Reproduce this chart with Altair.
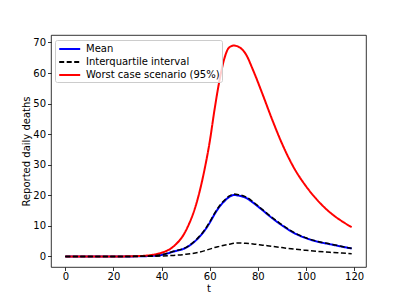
import altair as alt
import pandas as pd

t = [0, 10, 20, 25, 30, 35, 40, 45, 50, 55, 58, 60, 62, 64, 66, 68, 70, 72, 75, 78, 82, 86, 90, 95, 100, 105, 110, 115, 119]
mean = [0, 0, 0, 0.01, 0.04, 0.15, 0.5, 1.6, 2.8, 5.8, 8.6, 11, 13.8, 16.2, 18, 19.4, 20.1, 19.9, 19.2, 17.6, 15.1, 12.5, 10.2, 7.7, 6.0, 4.8, 4.0, 3.2, 2.6]
upper = [0, 0, 0, 0.01, 0.05, 0.17, 0.55, 1.7, 2.9, 6.0, 8.8, 11.3, 14.1, 16.5, 18.3, 19.7, 20.4, 20.2, 19.5, 17.9, 15.3, 12.7, 10.4, 7.85, 6.1, 4.9, 4.1, 3.25, 2.65]
lower = [0, 0, 0, 0, 0.02, 0.07, 0.15, 0.35, 0.7, 1.3, 1.9, 2.4, 2.9, 3.3, 3.7, 4.0, 4.3, 4.4, 4.3, 4.1, 3.7, 3.3, 2.9, 2.4, 2.0, 1.65, 1.35, 1.1, 0.9]
worst = [0, 0, 0, 0.03, 0.1, 0.4, 1.2, 3.3, 8.3, 18.8, 29, 37.5, 48, 57.3, 64.5, 68.3, 69, 68.6, 66.2, 61, 53, 44.7, 37, 29, 23, 18.2, 14.4, 11.5, 9.6]

labels = ["Mean", "Interquartile interval", "Worst case scenario (95%)"]
colors = ["blue", "black", "red"]
dashes = [[1, 0], [5, 2.5], [1, 0]]

rows = []
for name, leg, vals in [("mean", labels[0], mean), ("upper", labels[1], upper),
                        ("lower", labels[1], lower), ("worst", labels[2], worst)]:
    for ti, v in zip(t, vals):
        rows.append({"t": ti, "y": v, "series": name, "legend": leg})
df = pd.DataFrame(rows)

x = alt.X("t:Q", title="t",
          scale=alt.Scale(domain=[-5.95, 124.95], nice=False, zero=False),
          axis=alt.Axis(values=[0, 20, 40, 60, 80, 100, 120], labelPadding=1,
                        titleBaseline="alphabetic", titleY=24))
y = alt.Y("y:Q", title="Reported daily deaths",
          scale=alt.Scale(domain=[-3.45, 72.45], nice=False, zero=False),
          axis=alt.Axis(values=[0, 10, 20, 30, 40, 50, 60, 70]))
color = alt.Color("legend:N", scale=alt.Scale(domain=labels, range=colors),
                  legend=alt.Legend(title=None, orient="none", legendX=4, legendY=5,
                                    symbolType="M-0.8,0H2.7", symbolSize=144,
                                    symbolStrokeWidth=2, labelFontSize=10,
                                    labelFont="DejaVu Sans", labelColor="black",
                                    labelOffset=15, rowPadding=1,
                                    padding=2, fillColor="rgba(255,255,255,0.8)",
                                    strokeColor="#cccccc", cornerRadius=2))
dash = alt.StrokeDash("legend:N", scale=alt.Scale(domain=labels, range=dashes), legend=None)

base = alt.Chart(df).encode(x=x, y=y, color=color, strokeDash=dash, detail="series:N")

solid = base.transform_filter(
    alt.FieldOneOfPredicate(field="series", oneOf=["worst", "mean"])
).mark_line(strokeWidth=2, interpolate="monotone")
dashed = base.transform_filter(
    alt.FieldOneOfPredicate(field="series", oneOf=["upper", "lower"])
).mark_line(strokeWidth=1.5, interpolate="monotone")

chart = alt.layer(solid, dashed).properties(
    width=315, height=232,
    autosize=alt.AutoSizeParams(type="none"),
    padding={"left": 43, "top": 27, "right": 33, "bottom": 25},
).configure_view(stroke="black", strokeWidth=0.8).configure_axis(
    grid=False, domain=False, tickColor="black", tickSize=3.5, tickWidth=0.8,
    labelFont="DejaVu Sans", labelFontSize=10, labelColor="black",
    titleFont="DejaVu Sans", titleFontSize=10, titleFontWeight="normal",
    titleColor="black", labelPadding=2
).configure_axisY(titlePadding=1)

chart.save("out.html", embed_options={"renderer": "svg", "actions": False})
